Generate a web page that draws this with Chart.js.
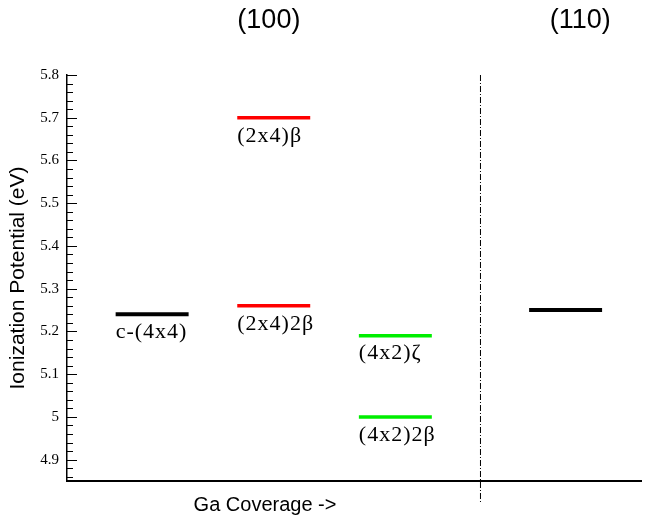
<!DOCTYPE html>
<html>
<head>
<meta charset="utf-8">
<script src="https://cdn.jsdelivr.net/npm/chart.js@4/dist/chart.umd.min.js"></script>
<style>
  html, body { margin: 0; padding: 0; background: #fff; }
  canvas { display: block; }
</style>
</head>
<body>
<canvas id="c" width="646" height="518"></canvas>
<script>
// ---- data ----
const stateLabels = ['c-(4x4)', '(2x4)β', '(2x4)2β', '(4x2)ζ', '(4x2)2β', ''];
const xStart     = [0.4, 1.4, 1.4, 2.4, 2.4, 3.8];
const xEnd       = [1.0, 2.0, 2.0, 3.0, 3.0, 4.4];
const ipValues   = [5.24, 5.70, 5.26, 5.19, 5.00, 5.25];
const surfaceTitles = ['(100)', '(110)'];
const surfaceTitleX = [1.66, 4.22];
const dividerX = 3.4;
const yTickValues = [4.9, 5.0, 5.1, 5.2, 5.3, 5.4, 5.5, 5.6, 5.7, 5.8];
const yMin = 4.85, yMax = 5.8, yMinorStep = 0.02;
const xMin = 0, xMax = 4.72;

// ---- styles ----
const segColors = ['#000000', '#ff0000', '#ff0000', '#00ee00', '#00ee00', '#000000'];
const segWidths = [4, 3.5, 3.5, 3.5, 3.5, 4];

const datasets = stateLabels.map((lab, i) => ({
  label: lab || '(110)',
  data: [{x: xStart[i], y: ipValues[i]}, {x: xEnd[i], y: ipValues[i]}],
  borderColor: segColors[i],
  borderWidth: segWidths[i],
  pointRadius: 0,
  fill: false,
  borderCapStyle: 'butt'
}));
datasets.push({
  label: 'divider',
  data: [{x: dividerX, y: yMax}, {x: dividerX, y: 4.80}],
  borderColor: '#000',
  borderWidth: 1,
  borderDash: [6, 2, 1, 2],
  pointRadius: 0,
  fill: false,
  clip: false
});

const decorPlugin = {
  id: 'decor',
  afterDraw(chart) {
    const ctx = chart.ctx;
    const xs = chart.scales.x, ys = chart.scales.y;
    const left = chart.chartArea.left;
    ctx.save();
    // inward ticks on y axis
    ctx.strokeStyle = '#000';
    ctx.lineWidth = 1;
    const n = Math.round((yMax - 4.86) / yMinorStep);
    for (let k = 0; k <= n; k++) {
      const v = 4.86 + k * yMinorStep;
      const major = Math.abs(v * 10 - Math.round(v * 10)) < 1e-6;
      const py = Math.round(ys.getPixelForValue(v)) + 0.5;
      ctx.beginPath();
      ctx.moveTo(left, py);
      ctx.lineTo(left + (major ? 10 : 6), py);
      ctx.stroke();
    }
    // state labels
    ctx.fillStyle = '#000';
    ctx.font = '22px "Liberation Serif"';
    ctx.letterSpacing = '1px';
    ctx.textAlign = 'left';
    ctx.textBaseline = 'top';
    stateLabels.forEach((lab, i) => {
      if (!lab) return;
      ctx.fillText(lab, xs.getPixelForValue(xStart[i]), ys.getPixelForValue(ipValues[i]) + 7);
    });
    ctx.letterSpacing = '0px';
    // surface titles
    ctx.font = '27px "Liberation Sans"';
    ctx.textAlign = 'center';
    ctx.textBaseline = 'middle';
    surfaceTitles.forEach((t, i) => {
      ctx.fillText(t, xs.getPixelForValue(surfaceTitleX[i]), 21);
    });
    // x axis title
    ctx.font = '20px "Liberation Sans"';
    ctx.fillText('Ga Coverage ->', 265, 505);
    ctx.restore();
  }
};

new Chart(document.getElementById('c'), {
  type: 'line',
  data: { datasets },
  options: {
    responsive: false,
    animation: false,
    layout: { padding: { top: 75, right: 5, left: 0, bottom: 0 } },
    plugins: { legend: { display: false }, tooltip: { enabled: false } },
    scales: {
      x: {
        type: 'linear', min: xMin, max: xMax,
        ticks: { display: false },
        grid: { display: false },
        border: { display: true, color: '#000', width: 2 },
        afterFit: s => { s.height = 37; }
      },
      y: {
        type: 'linear', min: yMin, max: yMax,
        afterBuildTicks: s => { s.ticks = yTickValues.map(v => ({ value: v })); },
        ticks: {
          callback: v => String(Math.round(v * 10) / 10),
          font: { family: '"Liberation Serif"', size: 15 },
          color: '#000', padding: 0
        },
        grid: { display: false },
        border: { display: true, color: '#000', width: 1.5 },
        title: {
          display: true, text: 'Ionization Potential (eV)',
          font: { family: '"Liberation Sans"', size: 21 },
          color: '#000', padding: { top: 6, bottom: 0 }
        },
        afterFit: s => { s.width = 67; }
      }
    }
  },
  plugins: [decorPlugin]
});
</script>
</body>
</html>
